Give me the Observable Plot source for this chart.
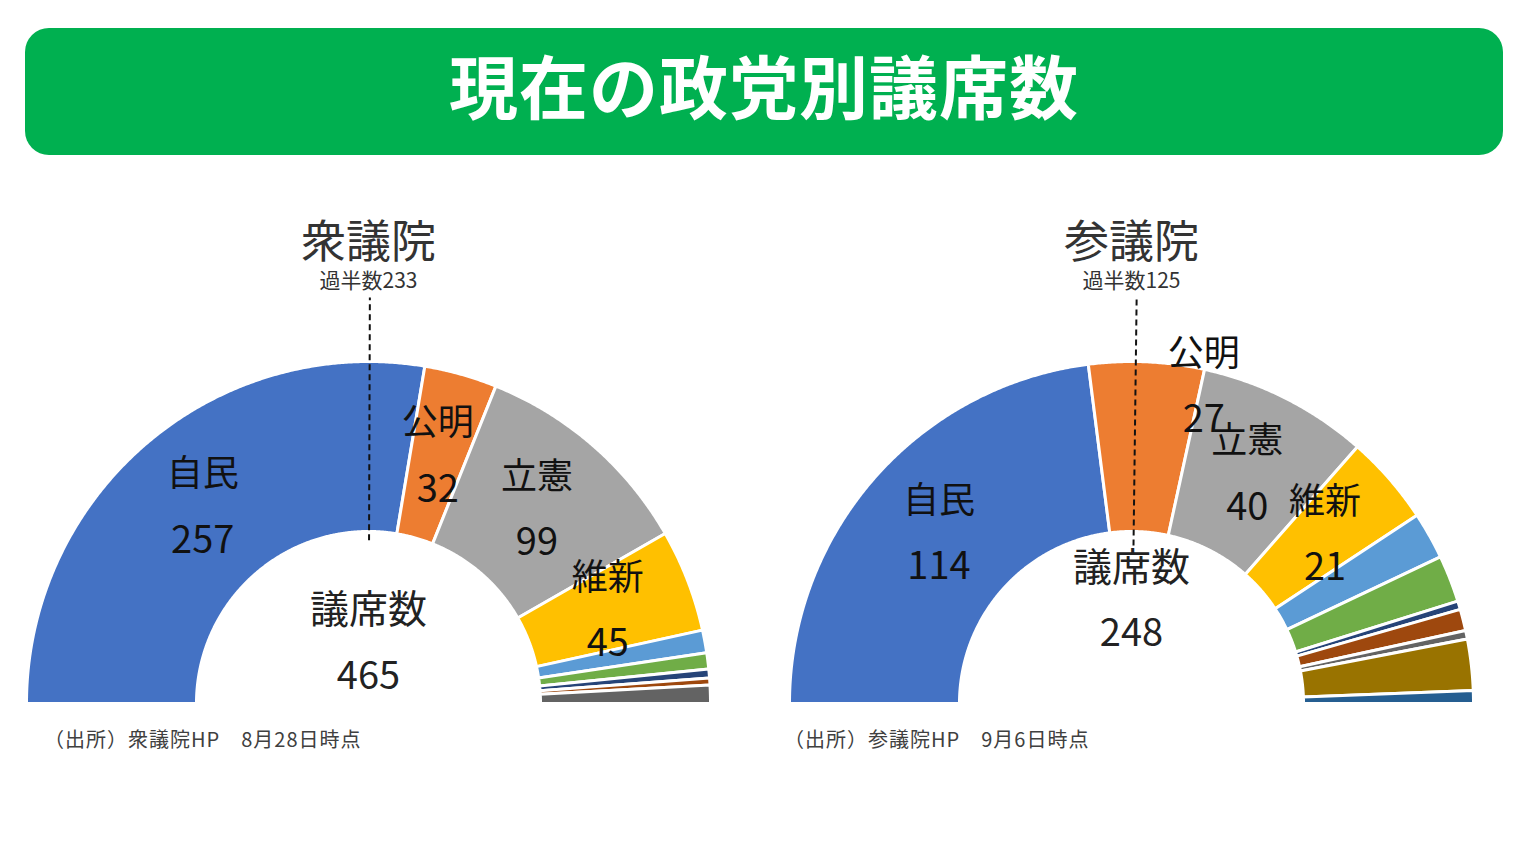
<!DOCTYPE html>
<html lang="ja">
<head>
<meta charset="utf-8">
<script src="https://cdn.jsdelivr.net/npm/d3@7"></script>
<script src="https://cdn.jsdelivr.net/npm/@observablehq/plot@0.6"></script>
<style>
  html, body { margin: 0; padding: 0; background: #fff; }
  body { width: 1527px; height: 856px; position: relative; overflow: hidden;
         font-family: "Noto Sans CJK JP", "Noto Sans", sans-serif; }
  #banner { position: absolute; left: 25px; top: 28px; width: 1478px; height: 127px;
            background: #00B050; border-radius: 24px; }
  #banner span { position: absolute; left: 0; right: 0; top: 11px; text-align: center;
            color: #fff; font-size: 69px; font-weight: 700; letter-spacing: 1px; line-height: 90px; }
  .chart { position: absolute; top: 170px; }
  .note { position: absolute; top: 724px; font-size: 20px; letter-spacing: 1px; color: #404040; white-space: pre; }
</style>
</head>
<body>
<div id="banner"><span>現在の政党別議席数</span></div>
<div id="left" class="chart" style="left:0px"></div>
<div id="right" class="chart" style="left:763px"></div>
<div class="note" style="left:44px">（出所）衆議院HP　8月28日時点</div>
<div class="note" style="left:784px">（出所）参議院HP　9月6日時点</div>
<script>
// ---- data ----
const shuParties = ["自民", "公明", "立憲", "維新", "共産", "国民", "有志の会", "れいわ", "その他"];
const shuSeats = [257, 32, 99, 45, 10, 7, 4, 3, 8];
const sanParties = ["自民", "公明", "立憲", "維新", "国民", "共産", "沖縄の風", "れいわ", "N党", "無所属", "欠員"];
const sanSeats = [114, 27, 40, 21, 11, 11, 2, 5, 2, 12, 3];
const labeledCount = 4; // first four parties carry labels
const palette = ["#4472C4", "#ED7D31", "#A5A5A5", "#FFC000", "#5B9BD5", "#70AD47",
                 "#264478", "#9E480E", "#636363", "#997300", "#255E91"];

// ---- layout ----
const W = 763, H = 560, CX = 368, CY = 533, RPX = 342;
const R_OUT = 1, R_IN = 0.503, R_LABEL = 0.75;

function buildSlices(parties, seats) {
  const total = d3.sum(seats);
  let cum = 0;
  const pts = [], labels = [];
  parties.forEach((p, i) => {
    const a0 = Math.PI * (1 - cum / total);
    cum += seats[i];
    const a1 = Math.PI * (1 - cum / total);
    const n = Math.max(2, Math.ceil(Math.abs(a0 - a1) / 0.005));
    for (let k = 0; k <= n; k++) {
      const a = a0 + (a1 - a0) * k / n;
      pts.push({party: p, color: palette[i], x: R_OUT * Math.cos(a), y: R_OUT * Math.sin(a)});
    }
    for (let k = n; k >= 0; k--) {
      const a = a0 + (a1 - a0) * k / n;
      pts.push({party: p, color: palette[i], x: R_IN * Math.cos(a), y: R_IN * Math.sin(a)});
    }
    if (i < labeledCount) {
      const am = (a0 + a1) / 2;
      labels.push({party: p, seats: seats[i], x: R_LABEL * Math.cos(am), y: R_LABEL * Math.sin(am)});
    }
  });
  return {pts, labels, total};
}

function chart(el, title, parties, seats, opts) {
  const {pts, labels, total} = buildSlices(parties, seats);
  const majority = Math.floor(total / 2) + 1;
  const am = Math.PI * (1 - majority / total);
  const dash = [opts.dashIn, 1.187].map(r => ({x: r * Math.cos(am), y: r * Math.sin(am)}));
  labels.forEach(l => { const o = (opts.labelShift || {})[l.party] || [0, 0]; l.sx = o[0]; l.sy = o[1]; });
  const center = [{x: 0, y: 0}];
  const txtFont = '"Noto Sans CJK JP", sans-serif';
  const svg = Plot.plot({
    width: W, height: H, margin: 0,
    style: {fontFamily: txtFont, background: "transparent"},
    x: {domain: [-CX / RPX, (W - CX) / RPX], axis: null},
    y: {domain: [-(H - CY) / RPX, CY / RPX], axis: null},
    color: {type: "identity"},
    marks: [
      Plot.line(pts, {x: "x", y: "y", z: "party", fill: "color", stroke: "white",
                      strokeWidth: 3, curve: "linear-closed", strokeLinejoin: "miter"}),
      Plot.line(dash, {x: "x", y: "y", stroke: "#111", strokeWidth: 2, strokeDasharray: "6,4",
                       strokeLinecap: "butt"}),
      Plot.text(labels, {x: "x", y: "y", text: "party", fontSize: 36, fill: "#111", dy: -33}),
      Plot.text(labels, {x: "x", y: "y", text: d => String(d.seats), fontSize: 38, fill: "#111", dy: 33}),
      Plot.text(center, {x: "x", y: "y", text: () => "議席数", fontSize: 39, fill: "#222", dy: opts.centerDy[0]}),
      Plot.text(center, {x: "x", y: "y", text: () => String(total), fontSize: 38, fill: "#222", dy: opts.centerDy[1]}),
      Plot.text(center, {x: "x", y: "y", text: () => title, fontSize: 45, fill: "#333", dy: -460}),
      Plot.text(center, {x: "x", y: "y", text: () => "過半数" + majority, fontSize: 21, fill: "#333", dy: -422})
    ]
  });
  el.appendChild(svg);
  return {svg, labels};
}

// per-label pixel shifts (layout overrides)
function shiftLabels(res) {
  const groups = res.svg.querySelectorAll('g[aria-label="text"]');
  [0, 1].forEach(g => {
    const texts = groups[g].querySelectorAll("text");
    res.labels.forEach((l, i) => {
      if (l.sx || l.sy) {
        const t = texts[i];
        const tr = t.getAttribute("transform") || "";
        t.setAttribute("transform", tr + ` translate(${l.sx},${l.sy})`);
      }
    });
  });
}

const left = chart(document.getElementById("left"), "衆議院", shuParties, shuSeats,
  {dashIn: 0.477, centerDy: [-93, -27]});
const right = chart(document.getElementById("right"), "参議院", sanParties, sanSeats,
  {dashIn: 0.462, centerDy: [-135, -70], labelShift: {"公明": [61, -60]}});
shiftLabels(left);
shiftLabels(right);
</script>
</body>
</html>
